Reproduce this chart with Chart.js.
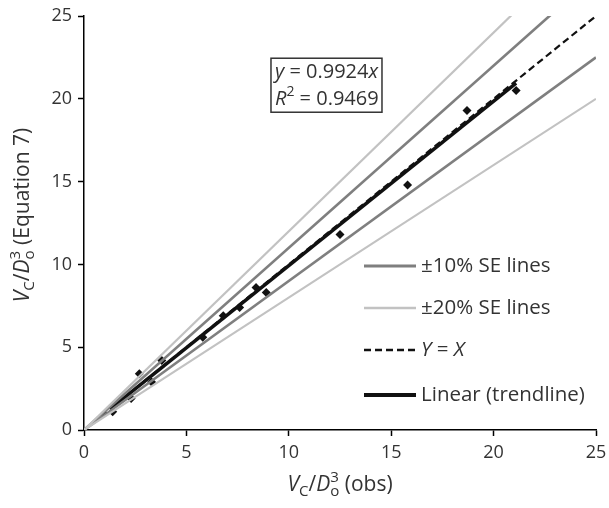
<!DOCTYPE html>
<html>
<head>
<meta charset="utf-8">
<script src="https://cdn.jsdelivr.net/npm/chart.js@4/dist/chart.umd.min.js"></script>
<style>
  body { margin: 0; background: #fff; }
  canvas { display: block; }
</style>
</head>
<body>
<canvas id="chart" width="609" height="508"></canvas>
<script>
// observed vs predicted (Equation 7)
const obsX  = [1.4, 2.3, 2.7, 3.3, 3.8, 5.8, 6.8, 7.6, 8.4, 8.9, 12.5, 15.8, 18.7, 21.1];
const predY = [1.1, 1.9, 3.4, 2.9, 4.2, 5.6, 6.9, 7.4, 8.6, 8.3, 11.8, 14.8, 19.3, 20.5];

// reference lines (end points)
const lineX     = [0, 25];
const plus10Y   = [0, 27.5];
const minus10Y  = [0, 22.5];
const plus20Y   = [0, 30];
const minus20Y  = [0, 20];
const equalY    = [0, 25];
const trendX    = [1.3, 21.1];
const trendY    = [1.29, 20.94];

const axisTicks = [0, 5, 10, 15, 20, 25];

const FONT = '"Open Sans", sans-serif';
const TXT = '#333';

function pts(xs, ys) { return xs.map((x, i) => ({ x: x, y: ys[i] })); }

function lineSet(data, color, width, dash) {
    return {
        data: data,
        showLine: true,
        borderColor: color,
        borderWidth: width,
        borderDash: dash || [],
        pointRadius: 0,
        fill: false
    };
}

// text with italic / sub / sup runs, left aligned
function drawRich(ctx, parts, x, y, size) {
    let cx = x;
    ctx.textBaseline = 'middle';
    ctx.textAlign = 'left';
    parts.forEach(p => {
        const s = p.sub || p.sup ? size * 0.7 : size;
        ctx.font = (p.it ? 'italic ' : '') + s + 'px ' + FONT;
        let dy = 0;
        if (p.sub) dy = size * 0.3;
        if (p.sup) dy = -size * 0.35;
        ctx.fillText(p.t, cx, y + dy);
        cx += ctx.measureText(p.t).width;
    });
}

// V_C / D_o^3 + tail, centred on x
function drawTitle(ctx, x, y, tail) {
    const size = 21;
    const parts = [
        { t: 'V', it: true, s: size, dy: 0 },
        { t: 'C', s: size * 0.72, dy: size * 0.3 },
        { t: '/', s: size, dy: 0 },
        { t: 'D', it: true, s: size, dy: 0 },
        { t: 'o', s: size * 0.72, dy: size * 0.3 },
        { t: '3', s: size * 0.72, dy: -size * 0.35 },
        { t: tail, s: size, dy: 0 }
    ];
    const fontOf = p => (p.it ? 'italic ' : '') + p.s + 'px ' + FONT;
    const widths = parts.map(p => { ctx.font = fontOf(p); return ctx.measureText(p.t).width; });
    let total = 0;
    parts.forEach((p, i) => {
        if (i === 4) total += Math.max(widths[4], widths[5]);
        else if (i !== 5) total += widths[i];
    });
    let cx = x - total / 2;
    ctx.textBaseline = 'middle';
    ctx.textAlign = 'left';
    parts.forEach((p, i) => {
        ctx.font = fontOf(p);
        ctx.fillText(p.t, cx, y + p.dy);
        if (i === 4) return;  // superscript 3 sits above the subscript o
        if (i === 5) { cx += Math.max(widths[4], widths[5]); return; }
        cx += widths[i];
    });
}

const legendItems = [
    { ds: 2, label: [{ t: '±10% SE lines' }] },
    { ds: 0, label: [{ t: '±20% SE lines' }] },
    { ds: 4, label: [{ t: 'Y', it: true }, { t: ' = ' }, { t: 'X', it: true }] },
    { ds: 5, label: [{ t: 'Linear (trendline)' }] }
];
const legendRowY = [266, 308, 350, 395];

const extras = {
    id: 'extras',
    afterDraw(chart) {
        const ctx = chart.ctx;
        const xs = chart.scales.x, ys = chart.scales.y;
        const area = chart.chartArea;
        ctx.save();
        ctx.fillStyle = TXT;

        // axis titles
        drawTitle(ctx, (area.left + area.right) / 2, 485, ' (obs)');
        ctx.save();
        ctx.translate(23, 215);
        ctx.rotate(-Math.PI / 2);
        drawTitle(ctx, 0, 0, ' (Equation 7)');
        ctx.restore();

        // equation box
        const bx = xs.getPixelForValue(9.13), by = ys.getPixelForValue(22.45);
        const bw = 111, bh = 54;
        ctx.strokeStyle = '#333';
        ctx.lineWidth = 1.5;
        ctx.fillStyle = '#fff';
        ctx.fillRect(bx, by, bw, bh);
        ctx.strokeRect(bx, by, bw, bh);
        ctx.fillStyle = TXT;
        drawRich(ctx, [{ t: 'y', it: true }, { t: ' = 0.9924' }, { t: 'x', it: true }], bx + 4, by + 14, 20);
        drawRich(ctx, [{ t: 'R', it: true }, { t: '2', sup: true }, { t: ' = 0.9469' }], bx + 4, by + 41, 20);

        // legend
        legendItems.forEach((it, i) => {
            const ds = chart.data.datasets[it.ds];
            const y = legendRowY[i];
            ctx.save();
            ctx.strokeStyle = ds.borderColor;
            ctx.lineWidth = ds.borderWidth + 0.5;
            ctx.setLineDash(ds.borderDash || []);
            ctx.beginPath();
            ctx.moveTo(364, y);
            ctx.lineTo(416, y);
            ctx.stroke();
            ctx.restore();
            ctx.fillStyle = TXT;
            drawRich(ctx, it.label, 421, y, 20.5);
        });
        ctx.restore();
    }
};

const datasets = [
    lineSet(pts(lineX, plus20Y), '#c2c2c2', 2.2),
    lineSet(pts(lineX, minus20Y), '#c2c2c2', 2.2),
    lineSet(pts(lineX, plus10Y), '#7f7f7f', 2.6),
    lineSet(pts(lineX, minus10Y), '#7f7f7f', 2.6),
    lineSet(pts(lineX, equalY), '#111', 2.2, [7, 4]),
    lineSet(pts(trendX, trendY), '#111', 3.5),
    {
        data: pts(obsX, predY),
        showLine: false,
        pointStyle: 'rectRot',
        pointRadius: 4.5,
        backgroundColor: '#111',
        borderColor: '#111',
        borderWidth: 0
    }
];

function axis(fitKey, fitVal) {
    return {
        type: 'linear',
        min: 0,
        max: 25,
        afterBuildTicks(s) { s.ticks = axisTicks.map(v => ({ value: v })); },
        ticks: { font: { family: FONT, size: 18 }, color: TXT, padding: 6 },
        grid: { drawOnChartArea: false, drawTicks: true, tickLength: 6, color: '#000', tickWidth: 1.5 },
        border: { display: true, color: '#000', width: 1.5 },
        afterFit(s) {
            s[fitKey] = fitVal;
            // let layout padding alone decide the chart area edges
            s.paddingLeft = 0; s.paddingRight = 0; s.paddingTop = 0; s.paddingBottom = 0;
        }
    };
}

new Chart(document.getElementById('chart'), {
    type: 'scatter',
    data: { datasets: datasets },
    options: {
        responsive: false,
        animation: false,
        layout: { padding: { top: 16, right: 13, left: 0, bottom: 0 } },
        plugins: { legend: { display: false }, tooltip: { enabled: false } },
        scales: {
            x: axis('height', 78),
            y: axis('width', 84)
        }
    },
    plugins: [extras]
});
</script>
</body>
</html>
